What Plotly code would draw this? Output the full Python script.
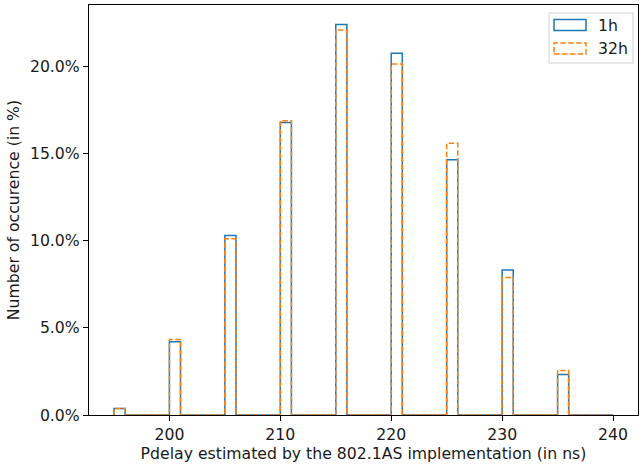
import numpy as np
import plotly.graph_objects as go

# ---- data ----
bin_left = [195, 200, 205, 210, 215, 220, 225, 230, 235]
pct_1h = [0.38, 4.20, 10.30, 16.80, 22.42, 20.77, 14.66, 8.33, 2.33]
pct_32h = [0.38, 4.34, 10.12, 16.90, 22.10, 20.15, 15.60, 7.90, 2.56]
series_names = ["1h", "32h"]
hist_range = (195, 240)   # histogram range, 1 ns bins
x_ticks = [200, 210, 220, 230, 240]
y_ticks = [0, 5, 10, 15, 20]

BLUE = "#1f77b4"
ORANGE = "#ff7f0e"
FONT = "DejaVu Sans, Verdana, sans-serif"
TXT = "#1a1a1a"
FS = 15.7


def step_outline(lefts, values):
    edges = np.arange(hist_range[0], hist_range[1] + 1)
    counts = np.zeros(len(edges) - 1)
    for l, v in zip(lefts, values):
        counts[l - hist_range[0]] = v
    xs = [edges[0]]
    ys = [0.0]
    for i, c in enumerate(counts):
        xs += [edges[i], edges[i + 1]]
        ys += [c, c]
    xs.append(edges[-1])
    ys.append(0.0)
    return xs, ys


fig = go.Figure()
x1, y1 = step_outline(bin_left, pct_1h)
x2, y2 = step_outline(bin_left, pct_32h)
fig.add_trace(go.Scatter(x=x1, y=y1, mode="lines", name=series_names[0],
                         line=dict(color=BLUE, width=1.5), showlegend=False,
                         hoverinfo="skip"))
fig.add_trace(go.Scatter(x=x2, y=y2, mode="lines", name=series_names[1],
                         line=dict(color=ORANGE, width=1.5, dash="5.5px,2.4px"),
                         showlegend=False, hoverinfo="skip"))

# matplotlib-style autoscale: 5% margins on x, top 5% on y
span = hist_range[1] - hist_range[0]
xr = [hist_range[0] - 0.05 * span, hist_range[1] + 0.05 * span]
ymax = max(max(pct_1h), max(pct_32h)) * 1.05

W, H = 640, 468
L, R, T, B = 89, 2, 5, 53

axis_common = dict(showline=True, linecolor="black", linewidth=1.2, mirror=True,
                   ticks="outside", ticklen=5, tickwidth=1.2, tickcolor="black",
                   showgrid=False, zeroline=False,
                   tickfont=dict(family=FONT, size=FS, color=TXT))
fig.update_xaxes(range=xr, tickvals=x_ticks,
                 title=dict(text="Pdelay estimated by the 802.1AS implementation (in ns)",
                            font=dict(family=FONT, size=FS, color=TXT), standoff=4),
                 **axis_common)
fig.update_yaxes(range=[0, ymax], tickvals=y_ticks,
                 ticktext=[f"{v:.1f}%" for v in y_ticks],
                 title=dict(text="Number of occurence (in %)",
                            font=dict(family=FONT, size=FS, color=TXT), standoff=6),
                 **axis_common)

# ---- custom legend (matplotlib-like patch legend) ----
pw, ph = W - L - R, H - T - B
def px(xp):
    return (xp - L) / pw
def py(yp):
    return (H - B - yp) / ph

shapes = [
    dict(type="rect", xref="paper", yref="paper",
         x0=px(549), x1=px(633), y0=py(63), y1=py(13),
         line=dict(color="#d0d0d0", width=1), fillcolor="rgba(255,255,255,0.8)",
         layer="above"),
    dict(type="rect", xref="paper", yref="paper",
         x0=px(554), x1=px(586), y0=py(30.5), y1=py(19.5),
         line=dict(color=BLUE, width=1.5), fillcolor="rgba(0,0,0,0)", layer="above"),
    dict(type="rect", xref="paper", yref="paper",
         x0=px(554), x1=px(586), y0=py(54), y1=py(43),
         line=dict(color=ORANGE, width=1.5, dash="5.5px,2.4px"),
         fillcolor="rgba(0,0,0,0)", layer="above"),
]
annotations = [
    dict(xref="paper", yref="paper", x=px(596), y=py(25), text=series_names[0],
         showarrow=False, xanchor="left", yanchor="middle",
         font=dict(family=FONT, size=FS, color=TXT)),
    dict(xref="paper", yref="paper", x=px(596), y=py(48.5), text=series_names[1],
         showarrow=False, xanchor="left", yanchor="middle",
         font=dict(family=FONT, size=FS, color=TXT)),
]

fig.update_layout(width=W, height=H, margin=dict(l=L, r=R, t=T, b=B),
                  plot_bgcolor="white", paper_bgcolor="white",
                  shapes=shapes, annotations=annotations,
                  font=dict(family=FONT, size=FS, color=TXT))

fig.write_html("out.html", config={"displayModeBar": False},
               post_script="document.body.style.margin='0px';document.body.style.padding='0px';")
